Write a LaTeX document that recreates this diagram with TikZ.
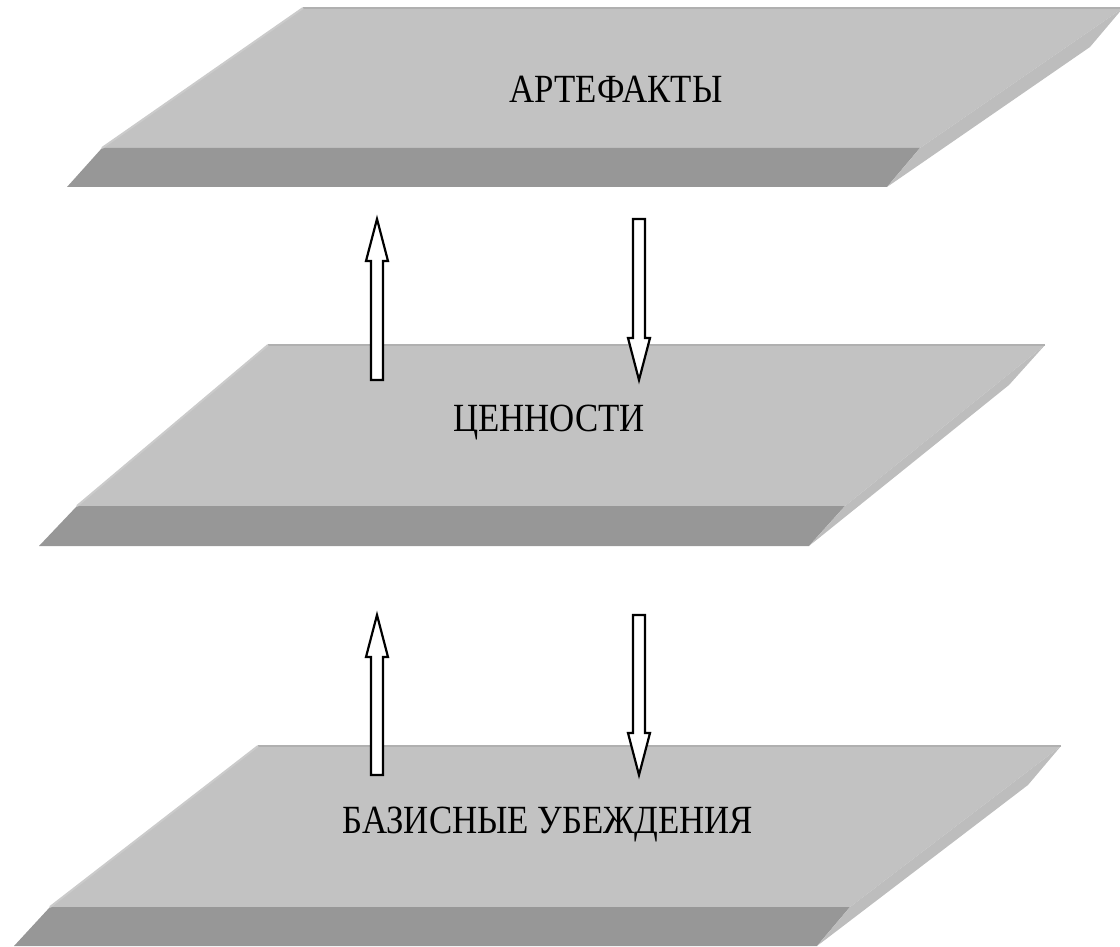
\documentclass[tikz,border=0pt]{standalone}
\usepackage{fontspec}
\setmainfont{Liberation Serif}
\newfontfamily\layerfont[FakeStretch=0.87]{Liberation Serif}
\usetikzlibrary{calc,positioning}
\definecolor{facetop}{HTML}{C2C2C2}
\definecolor{facefront}{HTML}{979797}
\definecolor{faceside}{HTML}{BDBDBD}
\definecolor{edgedark}{HTML}{B0B0B0}
\definecolor{edgelight}{HTML}{CBCBCB}
\tikzset{topface/.style={fill=facetop}}
\tikzset{frontface/.style={fill=facefront}}
\tikzset{sideface/.style={fill=faceside}}
\tikzset{rimdark/.style={draw=edgedark, line width=1.5pt}}
\tikzset{rimlight/.style={draw=edgelight, line width=2pt}}
\tikzset{layertext/.style={font=\layerfont\fontsize{40}{44}\selectfont, inner sep=0pt, anchor=base}}
\tikzset{blockarrow/.style={draw=black, line width=2.2pt, fill=white, line join=miter,
    to path={($(\tikztostart)!6pt!90:(\tikztotarget)$)
      -- ($(\tikztotarget)!42pt!(\tikztostart)!6pt!-90:(\tikztostart)$)
      -- ($(\tikztotarget)!42pt!(\tikztostart)!11pt!-90:(\tikztostart)$)
      -- (\tikztotarget)
      -- ($(\tikztotarget)!42pt!(\tikztostart)!11pt!90:(\tikztostart)$)
      -- ($(\tikztotarget)!42pt!(\tikztostart)!6pt!90:(\tikztostart)$)
      -- ($(\tikztostart)!6pt!-90:(\tikztotarget)$) -- cycle}}}

\begin{document}
\begin{tikzpicture}[x=1pt, y=-1pt]
    \useasboundingbox (0,0) rectangle (1120,947);

    % artefacts
    \coordinate (a1) at (303,8);
    \coordinate (a2) at (1123,8);
    \coordinate (a3) at (920,148);
    \coordinate (a4) at (102,148);
    \fill[topface] (a1) -- (a2) -- (a3) -- (a4) -- cycle;
    \fill[frontface] (a4) -- (a3) -- ($(a3)+(-33,39)$) -- ($(a4)+(-35,39)$) -- cycle;
    \fill[sideface] (a3) -- (a2) -- ($(a2)+(-33,39)$) -- ($(a3)+(-33,39)$) -- cycle;
    \draw[rimdark] (a1) -- (a2);
    \draw[rimlight] (a4) -- (a1);
    \node[layertext] (art) at (616,103) {АРТЕФАКТЫ};

    % values
    \coordinate (v1) at (268,345);
    \coordinate (v2) at (1045,345);
    \coordinate (v3) at (845,506);
    \coordinate (v4) at (77,506);
    \fill[topface] (v1) -- (v2) -- (v3) -- (v4) -- cycle;
    \fill[frontface] (v4) -- (v3) -- ($(v3)+(-36,40)$) -- ($(v4)+(-38,40)$) -- cycle;
    \fill[sideface] (v3) -- (v2) -- ($(v2)+(-36,40)$) -- ($(v3)+(-36,40)$) -- cycle;
    \draw[rimdark] (v1) -- (v2);
    \draw[rimlight] (v4) -- (v1);
    \node[layertext] (val) at (549,431) {ЦЕННОСТИ};

    % basic assumptions
    \coordinate (b1) at (258,746);
    \coordinate (b2) at (1061,746);
    \coordinate (b3) at (850,907);
    \coordinate (b4) at (50,907);
    \fill[topface] (b1) -- (b2) -- (b3) -- (b4) -- cycle;
    \fill[frontface] (b4) -- (b3) -- ($(b3)+(-33,39)$) -- ($(b4)+(-36,39)$) -- cycle;
    \fill[sideface] (b3) -- (b2) -- ($(b2)+(-33,39)$) -- ($(b3)+(-33,39)$) -- cycle;
    \draw[rimdark] (b1) -- (b2);
    \draw[rimlight] (b4) -- (b1);
    \node[layertext] (bas) at (548,833) {БАЗИСНЫЕ УБЕЖДЕНИЯ};

    % arrows
    \coordinate (up1s) at (377,380);
    \coordinate (up1e) at (377,219);
    \coordinate (dn1s) at (639,219);
    \coordinate (dn1e) at (639,380);
    \coordinate (up2s) at (377,775);
    \coordinate (up2e) at (377,615);
    \coordinate (dn2s) at (639,615);
    \coordinate (dn2e) at (639,775);
    \draw[blockarrow] (up1s) to (up1e);
    \draw[blockarrow] (dn1s) to (dn1e);
    \draw[blockarrow] (up2s) to (up2e);
    \draw[blockarrow] (dn2s) to (dn2e);
\end{tikzpicture}
\end{document}
